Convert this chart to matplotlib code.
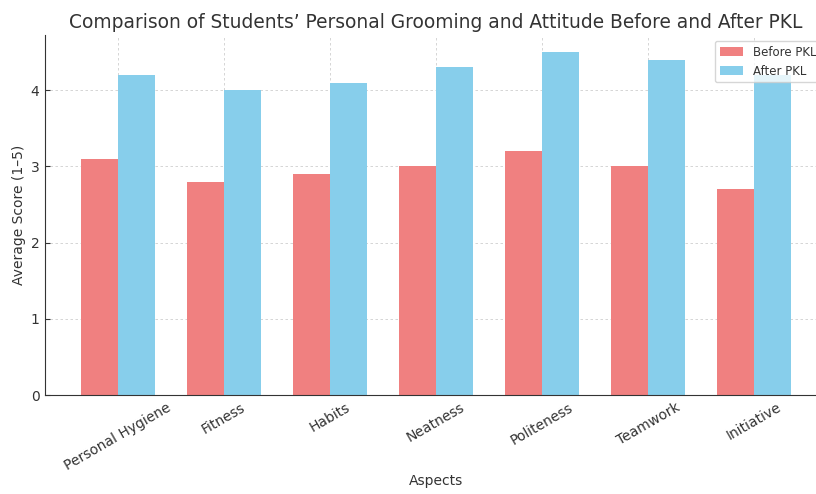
import numpy as np
import matplotlib
matplotlib.use('Agg')
import matplotlib.pyplot as plt

# data
aspects = ['Personal Hygiene', 'Fitness', 'Habits', 'Neatness', 'Politeness', 'Teamwork', 'Initiative']
before_pkl = [3.1, 2.8, 2.9, 3.0, 3.2, 3.0, 2.7]
after_pkl = [4.2, 4.0, 4.1, 4.3, 4.5, 4.4, 4.2]

plt.rcParams['text.color'] = '#333333'
plt.rcParams['axes.labelcolor'] = '#333333'
plt.rcParams['xtick.color'] = '#333333'
plt.rcParams['ytick.color'] = '#333333'

fig = plt.figure(figsize=(8.16, 4.94), dpi=100)
# axes run slightly past the right edge, like the cropped original
ax = fig.add_axes([45/816, 99/494, 782/816, 360/494])

x = np.arange(len(aspects))
width = 0.35
ax.bar(x - width/2, before_pkl, width, label='Before PKL', color='lightcoral')
ax.bar(x + width/2, after_pkl, width, label='After PKL', color='skyblue')

ax.set_title("Comparison of Students\u2019 Personal Grooming and Attitude Before and After PKL",
             fontsize=13.4, pad=5)
ax.set_xlabel('Aspects', fontsize=10, labelpad=1)
ax.set_ylabel('Average Score (1\u20135)', fontsize=10, labelpad=3)
ax.set_xticks(x)
ax.set_xticklabels(aspects, rotation=30, fontsize=10)
ax.set_yticks([0, 1, 2, 3, 4])
ax.tick_params(labelsize=10, direction='in', length=3.5, pad=4)

ax.grid(True, linestyle=(0, (3, 3)), color='#cfcfcf', linewidth=0.6)
ax.set_axisbelow(True)
ax.spines['top'].set_visible(False)
ax.spines['right'].set_visible(False)
ax.spines['left'].set_color('#333333')
ax.spines['bottom'].set_color('#333333')

ax.legend(loc='upper right', fontsize=8.5)

fig.savefig('out.png', dpi=100)
